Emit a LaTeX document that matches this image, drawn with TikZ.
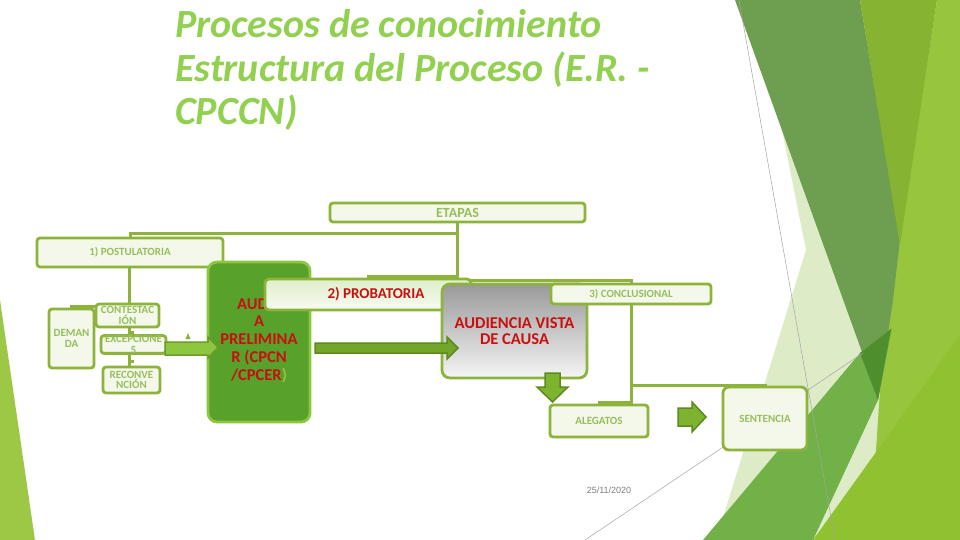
\documentclass[tikz,border=0pt]{standalone}
\usepackage{fontspec}
\setmainfont{Carlito}
\newfontfamily\datefont{Liberation Sans}
\definecolor{olive}{RGB}{141,179,58}
\definecolor{boxfill}{RGB}{243,248,234}
\definecolor{labelc}{RGB}{150,190,92}
\definecolor{redtxt}{RGB}{200,16,16}
\definecolor{titlec}{RGB}{146,208,80}
\definecolor{prelimfill}{RGB}{88,161,43}
\definecolor{prelimborder}{RGB}{141,198,63}
\definecolor{probtop}{RGB}{222,239,202}
\definecolor{leftgreen}{RGB}{157,200,70}
\definecolor{pale}{RGB}{221,235,199}
\definecolor{darkband}{RGB}{110,158,80}
\definecolor{yelstrip}{RGB}{134,180,50}
\definecolor{lightgr}{RGB}{152,197,62}
\definecolor{midgreen}{RGB}{114,176,72}
\definecolor{overlap}{RGB}{78,142,44}
\definecolor{yelbot}{RGB}{143,193,48}
\definecolor{arrfill}{RGB}{125,179,46}
\definecolor{arrline}{RGB}{92,138,30}
\definecolor{arr1fill}{RGB}{141,198,63}
\definecolor{arr1line}{RGB}{110,154,42}
\begin{document}
\begin{tikzpicture}[x=1pt,y=-1pt,
  box/.style={draw=olive, line width=2.8pt, fill=boxfill, rounded corners=3pt,
    inner sep=0pt, text=labelc, align=center,
    font=\bfseries\fontsize{11}{10.5}\selectfont},
  conn/.style={draw=olive, line width=3pt},
  redlabel/.style={text=redtxt, font=\bfseries\fontsize{16.5}{17.7}\selectfont, inner sep=0pt},
  titlestyle/.style={text=titlec, anchor=base west, inner sep=0pt,
    font=\fontsize{40}{44}\selectfont\bfseries\itshape},
  blockarrow/.style={fill=arrfill, draw=arrline, line width=1.5pt, line join=miter},
  thinline/.style={draw=black!35, line width=0.5pt}
]
\useasboundingbox (0,0) rectangle (960,540);
\fill[white] (0,0) rectangle (960,540);

% background facets
\fill[leftgreen] (0,300) -- (35,540) -- (0,540) -- cycle;
\fill[pale] (778,110) -- (806,250) -- (716,540) -- (960,540) -- (960,110) -- cycle;
\fill[lightgr] (937,0) -- (960,0) -- (960,540) -- (870,540) -- (880,390) -- (900,240) -- cycle;
\fill[darkband] (735,0) -- (860,0) -- (900,240) -- (893,300) -- (878,400) -- (862,352) -- cycle;
\fill[yelstrip] (860,0) -- (937,0) -- (900,245) -- cycle;
\fill[midgreen] (703,540) -- (860,353) -- (892,328) -- (878,400) -- (813,540) -- cycle;
\fill[overlap] (860,353) -- (891,329) -- (878,400) -- cycle;
\fill[yelbot] (813,540) -- (960,335) -- (960,540) -- cycle;
\draw[thinline] (739,0) -- (835,540);
\draw[thinline] (585,540) -- (863,353);

% title
\node[titlestyle] (title1) at (175,38) {Procesos de conocimiento};
\node[titlestyle] (title2) at (175,82) {Estructura del Proceso (E.R. -};
\node[titlestyle] (title3) at (175,125) {CPCCN)};

% junction coordinates
\coordinate (j1) at (457.5,233);
\coordinate (j2) at (457.5,276);
\coordinate (j3) at (457.5,280);
\coordinate (j4) at (129,306);
\coordinate (j5) at (631,385);
\coordinate (j6) at (631,402);

% boxes first (so connector positions come from names)
\node[box, minimum width=255pt, minimum height=19pt, font=\bfseries\fontsize{14}{14}\selectfont] (etapas) at (457.5,212.5) {ETAPAS};
\node[box, minimum width=186pt, minimum height=29pt] (post) at (130,252.5) {1) POSTULATORIA};

% connectors (drawn on background layer via order)
\draw[conn] (etapas.south) -- (j3);
\draw[conn] (j1) -| (post.north);
\draw[conn] (j2) -| (368,279);
\draw[conn] (j3) -| (631,284);
\draw[conn] (post.south -| j4) -- (129,367);
\draw[conn] (j4) -| (71.5,309);
\draw[conn] (129,332) -- (134,332);
\draw[conn] (129,361) -- (134,361);
\draw[conn] (631,304) -- (j6) -| (599,405);
\draw[conn] (j5) -| (765,387);

\node[box, minimum width=45pt, minimum height=59pt] (demanda) at (71.5,338.5) {DEMAN\\DA};
\node[box, minimum width=63pt, minimum height=23pt] (contest) at (127.5,315.5) {CONTESTAC\\IÓN};
\node[box, minimum width=65pt, minimum height=17pt] (excep) at (133.5,344.5) {EXCEPCIONE\\S};
\node[box, minimum width=57pt, minimum height=26pt] (recon) at (131.5,380) {RECONVE\\NCIÓN};

% small triangle
\fill[olive] (185.5,339) -- (190.5,339) -- (188,333) -- cycle;

% audiencia preliminar
\node[draw=prelimborder, fill=prelimfill, line width=2.8pt, rounded corners=9pt,
  minimum width=102pt, minimum height=160pt, inner sep=0pt] (prelim) at (259,342) {};
\node[redlabel, anchor=base west] (aud) at (237,309.5) {AUDIENCI};
\node[redlabel, align=center, anchor=north] (prelimtxt) at (259,316)
  {A\\PRELIMINA\\R (CPCN\\/CPCER\textcolor{prelimborder}{)}};

% probatoria
\node[draw=olive, line width=2.8pt, rounded corners=4pt, top color=probtop, bottom color=boxfill!60!white,
  minimum width=206pt, minimum height=31pt, inner sep=0pt, text=redtxt,
  font=\bfseries\fontsize{15}{15}\selectfont] (probat) at (368,294.5) {\hspace*{8pt}2) PROBATORIA\hspace*{-8pt}};

% audiencia vista de causa
\node[draw=olive, line width=2.8pt, rounded corners=8pt, top color=black!40, bottom color=black!4,
  minimum width=145pt, minimum height=94pt, inner sep=0pt, align=center, text=redtxt,
  font=\bfseries\fontsize{16.5}{15.5}\selectfont] (vista) at (514.5,331) {AUDIENCIA VISTA\\DE CAUSA};

% conclusional
\node[box, minimum width=160pt, minimum height=20pt] (concl) at (631,294) {3) CONCLUSIONAL};
\node[box, minimum width=98pt, minimum height=32pt] (aleg) at (599,421) {ALEGATOS};
\node[box, minimum width=84pt, minimum height=63pt, rounded corners=6pt] (sent) at (765,418.5) {SENTENCIA};

% block arrows
\draw[blockarrow, fill=arr1fill, draw=arr1line] (165,342) -- (208,342) -- (208,337) -- (218,347.5) -- (208,358) -- (208,355) -- (165,355) -- cycle;
\draw[blockarrow, fill=arrfill!92!black] (315,343) -- (447,343) -- (447,337) -- (458,348) -- (447,359) -- (447,353) -- (315,353) -- cycle;
\draw[blockarrow] (545,373) -- (560,373) -- (560,387) -- (568,387) -- (552.5,402) -- (537,387) -- (545,387) -- cycle;
\draw[blockarrow] (678,408) -- (692,408) -- (692,402) -- (706,417) -- (692,432) -- (692,426) -- (678,426) -- cycle;

% date
\node[font=\datefont\fontsize{9}{9}\selectfont, text=black!50, anchor=base, inner sep=0pt] (date) at (609,493) {25/11/2020};
\end{tikzpicture}
\end{document}
